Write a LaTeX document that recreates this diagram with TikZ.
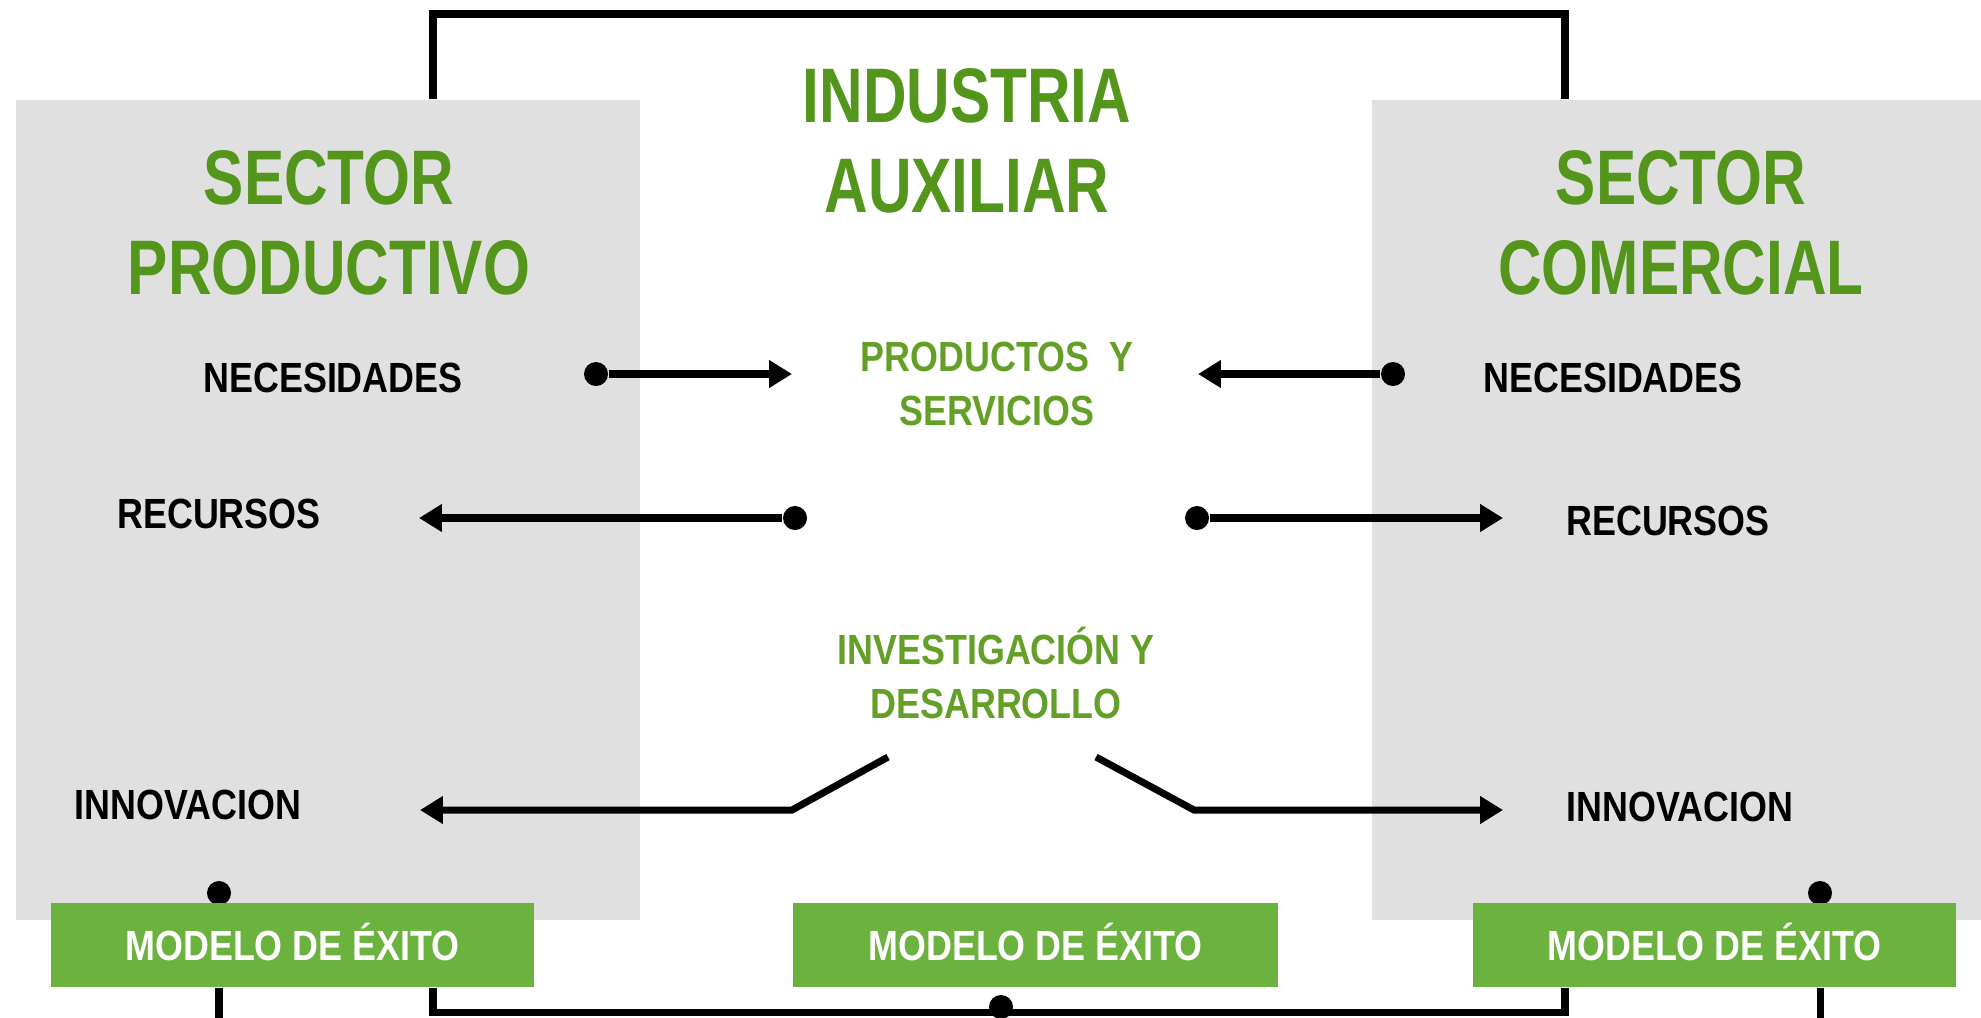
\documentclass[tikz,border=0pt]{standalone}
\usepackage{fontspec}
\setmainfont{Liberation Sans}
\newfontfamily\titlefont{Liberation Sans}[FakeStretch=0.78]
\newfontfamily\labelfont{Liberation Sans}[FakeStretch=0.85]
\usetikzlibrary{arrows.meta}
\definecolor{ttlgreen}{RGB}{84,150,28}
\definecolor{midgreen}{RGB}{100,160,40}
\definecolor{boxgreen}{RGB}{108,178,62}
\definecolor{panelgray}{RGB}{224,224,224}
\begin{document}
\begin{tikzpicture}[x=0.01cm,y=-0.01cm,
  panel/.style={fill=panelgray,draw=none,inner sep=0},
  ttl/.style={font=\titlefont\bfseries\fontsize{22}{25.6}\selectfont,text=ttlgreen,align=center,inner sep=0,anchor=south},
  lbl/.style={font=\labelfont\bfseries\fontsize{12}{15.5}\selectfont,text=black,inner sep=0,text height=8.6pt,text depth=0pt},
  glbl/.style={font=\labelfont\bfseries\fontsize{12}{15.5}\selectfont,text=midgreen,align=center,inner sep=0,anchor=south},
  modelbox/.style={fill=boxgreen,draw=none,inner sep=0,minimum height=0.84cm,text=white,font=\labelfont\bfseries\fontsize{12}{15.5}\selectfont,text height=8.6pt,text depth=0pt},
  dot/.style={circle,fill=black,draw=none,inner sep=0,minimum size=0.24cm},
  conn/.style={line width=2pt,draw=black},
  arr/.style={conn,-{Triangle[length=6.5pt,width=7.5pt]}},
  frame/.style={conn,line join=miter}
]
\useasboundingbox (0,0) rectangle (1981,1017);
\fill[white] (0,0) rectangle (1981,1017);

% side panels
\node[panel,minimum width=6.24cm,minimum height=8.2cm] (lp) at (328,510) {};
\node[panel,minimum width=6.09cm,minimum height=8.2cm] (rp) at (1676.5,510) {};

% top frame
\coordinate (tl) at (433,14);
\coordinate (tr) at (1565,14);
\draw[frame] (lp.north -| tl) -- (tl) -- (tr) -- (rp.north -| tr);

% titles
\node[ttl] (sp) at (329,296) {SECTOR\\PRODUCTIVO};
\node[ttl] (ia) at (967,214) {INDUSTRIA\\AUXILIAR};
\node[ttl] (sc) at (1681,296) {SECTOR\\COMERCIAL};

% labels
\node[lbl] (nl) at (333,377) {NECESIDADES};
\node[lbl] (nr) at (1613,377) {NECESIDADES};
\node[lbl] (rl) at (219,513) {RECURSOS};
\node[lbl] (rr) at (1668,520) {RECURSOS};
\node[lbl] (il) at (188,804) {INNOVACION};
\node[lbl] (ir) at (1680,806) {INNOVACION};
\node[glbl] (ps) at (997,427) {PRODUCTOS~~Y\\SERVICIOS};
\node[glbl] (id) at (996,720) {INVESTIGACIÓN Y\\DESARROLLO};

% arrows
\node[dot] (d1) at (596,374) {};
\coordinate (a1) at (792,374);
\draw[arr] (d1) -- (a1);
\node[dot] (d2) at (1393,374) {};
\coordinate (a2) at (1198,374);
\draw[arr] (d2) -- (a2);
\node[dot] (d3) at (795,518) {};
\coordinate (a3) at (419,518);
\draw[arr] (d3) -- (a3);
\node[dot] (d4) at (1197,518) {};
\coordinate (a4) at (1503,518);
\draw[arr] (d4) -- (a4);
\coordinate (s5) at (888,757);
\coordinate (k5) at (792,810);
\coordinate (a5) at (420,810);
\draw[arr] (s5) -- (k5) -- (a5);
\coordinate (s6) at (1096,757);
\coordinate (k6) at (1194,810);
\coordinate (a6) at (1503,810);
\draw[arr] (s6) -- (k6) -- (a6);

% modelo boxes
\node[dot] (ld) at (219,893) {};
\node[dot] (rd) at (1820,893) {};
\node[modelbox,minimum width=4.83cm] (lm) at (292.5,945) {MODELO DE ÉXITO};
\node[modelbox,minimum width=4.85cm] (cm) at (1035.5,945) {MODELO DE ÉXITO};
\node[modelbox,minimum width=4.83cm] (rm) at (1714.5,945) {MODELO DE ÉXITO};

% bottom frame
\coordinate (bl) at (433,1012);
\coordinate (br) at (1565,1012);
\draw[frame] (lm.south -| bl) -- (bl) -- (br) -- (rm.south -| br);
\coordinate (lt) at (219,1030);
\coordinate (rt) at (1820,1030);
\draw[conn] (lm.south -| lt) -- (lt);
\draw[conn] (rm.south -| rt) -- (rt);
\node[dot] (cd) at (1001,1007) {};
\end{tikzpicture}
\end{document}
